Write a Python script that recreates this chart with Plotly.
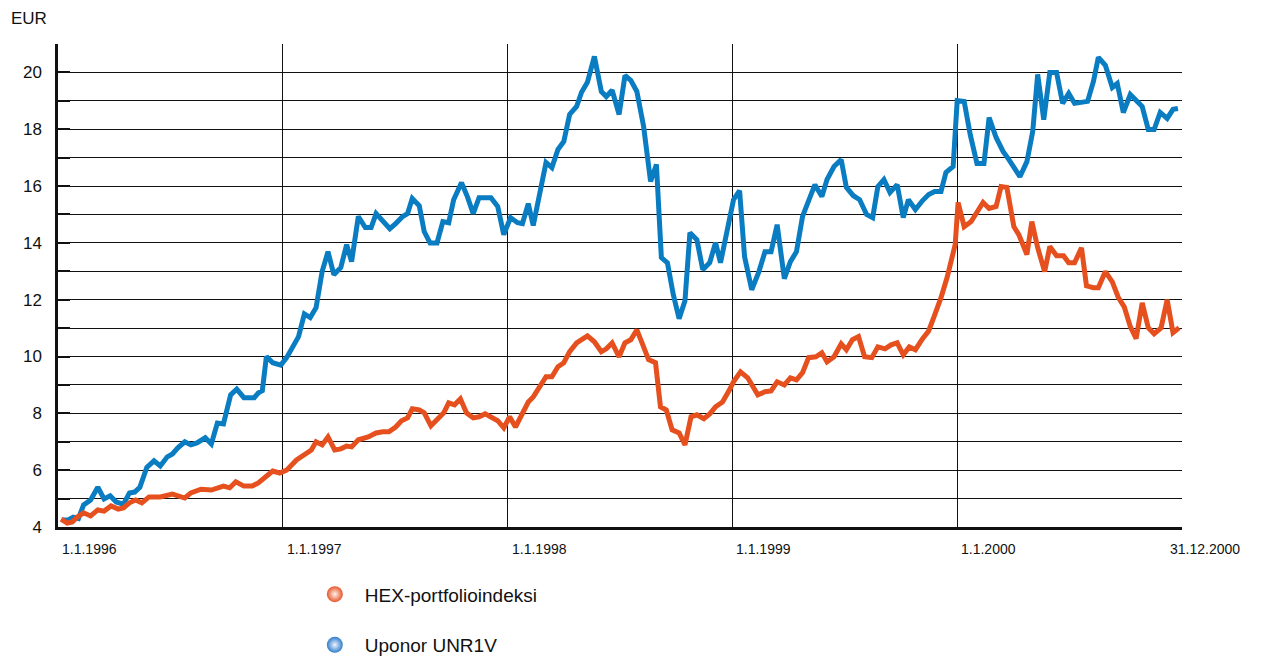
import plotly.graph_objects as go

# time as decimal years, values in EUR
unr_t = [1996.017, 1996.045, 1996.068, 1996.091, 1996.114, 1996.145, 1996.177, 1996.205, 1996.232, 1996.259,
         1996.291, 1996.318, 1996.341, 1996.364, 1996.395, 1996.427, 1996.455, 1996.486, 1996.509, 1996.532,
         1996.564, 1996.591, 1996.618, 1996.655, 1996.682, 1996.709, 1996.736, 1996.768, 1996.795, 1996.827,
         1996.873, 1996.891, 1996.909, 1996.927, 1996.955, 1996.991,
         1997.017, 1997.044, 1997.070, 1997.096, 1997.122, 1997.148, 1997.175, 1997.201, 1997.227, 1997.258,
         1997.284, 1997.306, 1997.336, 1997.367, 1997.393, 1997.415, 1997.445, 1997.476, 1997.502, 1997.533,
         1997.555, 1997.576, 1997.607, 1997.629, 1997.655, 1997.686, 1997.712, 1997.738, 1997.760, 1997.795,
         1997.821, 1997.847, 1997.873, 1997.926, 1997.956, 1997.983,
         1998.013, 1998.044, 1998.066, 1998.092, 1998.114, 1998.145, 1998.171, 1998.197, 1998.224, 1998.250,
         1998.276, 1998.307, 1998.329, 1998.355, 1998.386, 1998.417, 1998.439, 1998.465, 1998.496, 1998.522,
         1998.548, 1998.575, 1998.605, 1998.636, 1998.662, 1998.684, 1998.711, 1998.737, 1998.763, 1998.789,
         1998.811, 1998.842, 1998.868, 1998.899, 1998.925, 1998.947, 1998.978,
         1999.005, 1999.032, 1999.054, 1999.086, 1999.118, 1999.145, 1999.172, 1999.199, 1999.231, 1999.258,
         1999.285, 1999.312, 1999.339, 1999.367, 1999.398, 1999.421, 1999.452, 1999.484, 1999.507, 1999.538,
         1999.566, 1999.597, 1999.624, 1999.647, 1999.674, 1999.701, 1999.733, 1999.760, 1999.783, 1999.814,
         1999.846, 1999.873, 1999.900, 1999.928, 1999.950, 1999.982,
         2000.000, 2000.031, 2000.058, 2000.088, 2000.119, 2000.142, 2000.173, 2000.204, 2000.230, 2000.252,
         2000.279, 2000.310, 2000.336, 2000.358, 2000.385, 2000.412, 2000.442, 2000.469, 2000.496, 2000.522,
         2000.558, 2000.580, 2000.606, 2000.628, 2000.659, 2000.690, 2000.712, 2000.739, 2000.770, 2000.796,
         2000.823, 2000.850, 2000.876, 2000.903, 2000.934, 2000.960, 2000.982]
unr_v = [4.25, 4.25, 4.35, 4.3, 4.78, 4.95, 5.4, 4.99, 5.1, 4.88,
         4.8, 5.2, 5.23, 5.4, 6.1, 6.33, 6.15, 6.47, 6.57, 6.78,
         7.0, 6.89, 6.96, 7.14, 6.92, 7.66, 7.63, 8.65, 8.85, 8.55,
         8.55, 8.72, 8.8, 10.0, 9.78, 9.7,
         9.96, 10.34, 10.7, 11.5, 11.37, 11.72, 12.99, 13.69, 12.88, 13.13,
         13.94, 13.34, 14.93, 14.54, 14.54, 15.03, 14.75, 14.5, 14.68, 14.93,
         15.03, 15.56, 15.31, 14.4, 14.0, 14.0, 14.75, 14.71, 15.52, 16.12,
         15.63, 15.03, 15.59, 15.59, 15.28, 14.29,
         14.89, 14.71, 14.68, 15.38, 14.61, 15.88, 16.83, 16.65, 17.29, 17.57,
         18.52, 18.8, 19.3, 19.65, 20.56, 19.33, 19.15, 19.37, 18.52, 19.89,
         19.72, 19.33, 18.1, 16.16, 16.76, 13.48, 13.3, 12.18, 11.33, 11.96,
         14.36, 14.11, 13.06, 13.3, 14.01, 13.3, 14.57,
         15.52, 15.84, 13.52, 12.35, 12.99, 13.69, 13.69, 14.64, 12.74, 13.34,
         13.69, 14.93, 15.45, 16.05, 15.63, 16.23, 16.69, 16.93, 15.95, 15.66,
         15.52, 15.0, 14.89, 15.98, 16.23, 15.77, 16.05, 14.89, 15.52, 15.17,
         15.49, 15.7, 15.81, 15.81, 16.48, 16.69,
         19.01, 18.98, 17.81, 16.79, 16.79, 18.41, 17.71, 17.22, 16.93, 16.65,
         16.33, 16.86, 17.92, 19.93, 18.34, 20.0, 20.0, 18.91, 19.26, 18.91,
         18.98, 18.98, 19.68, 20.53, 20.25, 19.47, 19.61, 18.59, 19.22, 19.01,
         18.8, 17.99, 17.99, 18.59, 18.38, 18.7, 18.73]

hex_t = [1996.014, 1996.041, 1996.064, 1996.086, 1996.114, 1996.145, 1996.177, 1996.205, 1996.236, 1996.268,
         1996.291, 1996.318, 1996.345, 1996.373, 1996.405, 1996.455, 1996.509, 1996.564, 1996.591, 1996.636,
         1996.682, 1996.736, 1996.764, 1996.791, 1996.827, 1996.864, 1996.891, 1996.927, 1996.955, 1996.986,
         1997.017, 1997.061, 1997.105, 1997.127, 1997.148, 1997.175, 1997.201, 1997.231, 1997.258, 1997.284,
         1997.306, 1997.336, 1997.380, 1997.415, 1997.445, 1997.472, 1997.502, 1997.528, 1997.555, 1997.576,
         1997.607, 1997.629, 1997.659, 1997.694, 1997.716, 1997.738, 1997.764, 1997.790, 1997.817, 1997.847,
         1997.873, 1997.900, 1997.926, 1997.956, 1997.983,
         1998.009, 1998.035, 1998.066, 1998.092, 1998.114, 1998.145, 1998.171, 1998.197, 1998.224, 1998.250,
         1998.276, 1998.307, 1998.329, 1998.355, 1998.386, 1998.417, 1998.439, 1998.465, 1998.496, 1998.522,
         1998.548, 1998.575, 1998.605, 1998.627, 1998.658, 1998.680, 1998.706, 1998.732, 1998.763, 1998.789,
         1998.816, 1998.842, 1998.873, 1998.899, 1998.925, 1998.956, 1998.987,
         1999.005, 1999.036, 1999.068, 1999.113, 1999.145, 1999.172, 1999.199, 1999.231, 1999.258, 1999.285,
         1999.312, 1999.339, 1999.371, 1999.398, 1999.421, 1999.452, 1999.484, 1999.507, 1999.534, 1999.561,
         1999.588, 1999.620, 1999.647, 1999.679, 1999.706, 1999.733, 1999.760, 1999.787, 1999.814, 1999.846,
         1999.873, 1999.900, 1999.928, 1999.955, 1999.982, 1999.991,
         2000.004, 2000.031, 2000.062, 2000.088, 2000.115, 2000.142, 2000.173, 2000.195, 2000.221, 2000.252,
         2000.274, 2000.310, 2000.332, 2000.358, 2000.389, 2000.412, 2000.442, 2000.473, 2000.496, 2000.522,
         2000.553, 2000.575, 2000.606, 2000.628, 2000.659, 2000.690, 2000.717, 2000.743, 2000.770, 2000.796,
         2000.823, 2000.850, 2000.876, 2000.907, 2000.934, 2000.960, 2000.987]
hex_v = [4.28, 4.14, 4.18, 4.35, 4.5, 4.39, 4.6, 4.56, 4.74, 4.63,
         4.67, 4.85, 4.95, 4.85, 5.06, 5.06, 5.16, 5.02, 5.2, 5.33,
         5.3, 5.44, 5.38, 5.59, 5.44, 5.44, 5.55, 5.76, 5.97, 5.9,
         6.0, 6.36, 6.57, 6.71, 7.0, 6.89, 7.17, 6.71, 6.75, 6.85,
         6.82, 7.07, 7.17, 7.31, 7.35, 7.35, 7.52, 7.74, 7.84, 8.16,
         8.12, 8.02, 7.56, 7.81, 8.02, 8.37, 8.3, 8.51, 8.02, 7.84,
         7.88, 7.98, 7.88, 7.74, 7.49,
         7.88, 7.52, 8.05, 8.4, 8.58, 8.93, 9.29, 9.29, 9.64, 9.78,
         10.17, 10.48, 10.59, 10.73, 10.52, 10.17, 10.27, 10.48, 9.99, 10.48,
         10.59, 10.94, 10.34, 9.89, 9.78, 8.23, 8.12, 7.42, 7.31, 6.89,
         7.88, 7.95, 7.81, 7.98, 8.23, 8.4, 8.83,
         9.11, 9.46, 9.25, 8.65, 8.76, 8.79, 9.11, 9.0, 9.25, 9.18,
         9.43, 9.96, 9.99, 10.13, 9.81, 9.99, 10.45, 10.24, 10.59, 10.7,
         9.99, 9.96, 10.34, 10.27, 10.41, 10.48, 10.06, 10.34, 10.24, 10.63,
         10.9, 11.47, 12.07, 12.78, 13.66, 13.94,
         15.42, 14.57, 14.75, 15.07, 15.42, 15.21, 15.28, 15.98, 15.95, 14.57,
         14.29, 13.59, 14.75, 13.83, 12.99, 13.87, 13.55, 13.55, 13.3, 13.3,
         13.83, 12.49, 12.42, 12.42, 12.99, 12.63, 12.07, 11.75, 11.05, 10.63,
         11.89, 11.01, 10.8, 11.01, 12.0, 10.84, 11.01]

year_ticks = [1996, 1997, 1998, 1999, 2000, 2001]
year_labels = ["1.1.1996", "1.1.1997", "1.1.1998", "1.1.1999", "1.1.2000", "31.12.2000"]
y_ticks = list(range(4, 22))
y_labels = [str(v) if v % 2 == 0 and v <= 20 else "" for v in y_ticks]

ORANGE = "#E5501E"
BLUE = "#0A7CC1"
FONT = "Liberation Sans, Arial, sans-serif"

fig = go.Figure()
fig.add_trace(go.Scatter(x=unr_t, y=unr_v, mode="lines", line=dict(color=BLUE, width=5),
                         showlegend=False, hoverinfo="skip"))
fig.add_trace(go.Scatter(x=hex_t, y=hex_v, mode="lines", line=dict(color=ORANGE, width=5),
                         showlegend=False, hoverinfo="skip"))

# legend entries with ball-style markers
fig.add_trace(go.Scatter(x=[None], y=[None], mode="markers", name="HEX-portfolioindeksi",
                         legendgroup="hex",
                         marker=dict(size=22, color="#E8552A",
                                     gradient=dict(type="radial", color="#FFF3EC"))))
fig.add_trace(go.Scatter(x=[None], y=[None], mode="markers", name="Uponor UNR1V",
                         legendgroup="unr",
                         marker=dict(size=22, color="#2F7DCB",
                                     gradient=dict(type="radial", color="#F0F4FF"))))

for t, lab in zip(year_ticks, year_labels):
    fig.add_annotation(x=t, y=0, xref="x", yref="paper", text=lab, showarrow=False,
                       xanchor="left", yanchor="top", yshift=-12,
                       xshift=-14 if t == 2001 else 2,
                       font=dict(size=14, color="#111111", family=FONT))

fig.add_annotation(x=-0.0436, y=1, xref="paper", yref="paper", text="EUR", showarrow=False,
                   xanchor="left", yanchor="middle", yshift=26,
                   font=dict(size=17, color="#111111", family=FONT))

# the page body adds an 8px offset, margins compensate for it
fig.update_layout(
    width=1265, height=660,
    margin=dict(l=50, r=91, t=36, b=141, autoexpand=False),
    paper_bgcolor="white", plot_bgcolor="white",
    font=dict(family=FONT, color="#111111"),
    xaxis=dict(range=[1996, 2001], tickvals=year_ticks[:-1], showticklabels=False,
               showgrid=True, gridcolor="#111111", gridwidth=1, zeroline=False,
               showline=True, linecolor="#111111", linewidth=2.5, ticks=""),
    yaxis=dict(range=[4, 21], tickvals=y_ticks, ticktext=y_labels,
               showgrid=True, gridcolor="#111111", gridwidth=1, zeroline=False,
               showline=True, linecolor="#111111", linewidth=2.5,
               ticks="inside", ticklen=12, tickwidth=2, tickcolor="#111111",
               ticklabelstandoff=10, tickfont=dict(size=17)),
    legend=dict(x=0.2196, y=-0.1, xanchor="left", yanchor="top", itemwidth=50,
                font=dict(size=19, color="#111111"), tracegroupgap=23,
                bgcolor="rgba(0,0,0,0)"),
)

fig.write_html("out.html")
